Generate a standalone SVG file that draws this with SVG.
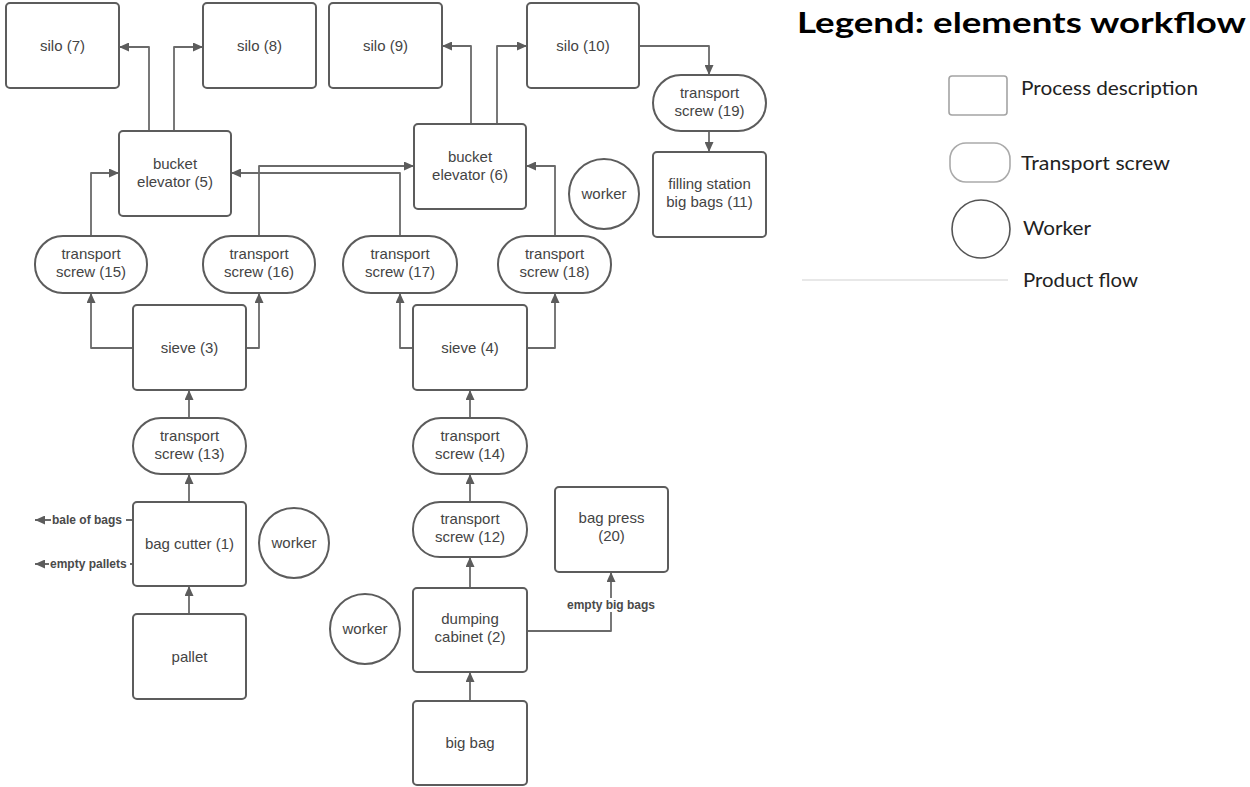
<svg xmlns="http://www.w3.org/2000/svg" width="1250" height="787" viewBox="0 0 1250 787">
  <style>
    .box { fill: #ffffff; stroke: #5c5c5c; stroke-width: 2; }
    .lbl { font-family: "Liberation Sans", Arial, sans-serif; font-size: 15px; fill: #444444; text-anchor: middle; }
    .flow { fill: none; stroke: #6a6a6a; stroke-width: 1.8; stroke-linejoin: round; marker-end: url(#arrow); }
    .tag { font-family: "Liberation Sans", Arial, sans-serif; font-size: 12px; font-weight: bold; fill: #4a4a4a; }
    .leg { font-family: Lato, "Liberation Sans", sans-serif; font-size: 20px; fill: #222222; }
  </style>
  <defs>
    <marker id="arrow" markerUnits="userSpaceOnUse" markerWidth="10" markerHeight="9" refX="10" refY="4.5" orient="auto">
      <path d="M0,0 L10,4.5 L0,9 z" fill="#5c5c5c"/>
    </marker>
  </defs>

  <rect width="1250" height="787" fill="#ffffff"/>

  <!-- connectors -->
  <g id="connectors">
    <path class="flow" d="M149,131 V47 H119"/>
    <path class="flow" d="M174,131 V47 H203"/>
    <path class="flow" d="M471,124 V46 H442"/>
    <path class="flow" d="M497,124 V46 H527"/>
    <path class="flow" d="M639,46 H709 V75"/>
    <path class="flow" d="M709,131 V152"/>
    <path class="flow" d="M91,236 V173 H119"/>
    <path class="flow" d="M259,236 V166 H414"/>
    <path class="flow" d="M400,236 V173 H231"/>
    <path class="flow" d="M555,236 V166 H526"/>
    <path class="flow" d="M133,348 H91 V293"/>
    <path class="flow" d="M246,348 H259 V293"/>
    <path class="flow" d="M413,348 H400 V293"/>
    <path class="flow" d="M527,348 H555 V293"/>
    <path class="flow" d="M189,418 V390"/>
    <path class="flow" d="M189,502 V474"/>
    <path class="flow" d="M189,614 V586"/>
    <path class="flow" d="M133,520 H35"/>
    <path class="flow" d="M133,564 H35"/>
    <path class="flow" d="M470,418 V390"/>
    <path class="flow" d="M470,502 V474"/>
    <path class="flow" d="M470,588 V557"/>
    <path class="flow" d="M470,701 V672"/>
    <path class="flow" d="M527,631 H611 V572"/>
    <!-- connector labels on a white ground -->
    <rect x="51" y="512" width="75" height="15" fill="#ffffff"/>
    <text class="tag" x="52" y="524">bale of bags</text>
    <rect x="49" y="556" width="81" height="15" fill="#ffffff"/>
    <text class="tag" x="50" y="568">empty pallets</text>
    <rect x="565" y="598" width="92" height="14" fill="#ffffff"/>
    <text class="tag" x="611" y="609" text-anchor="middle">empty big bags</text>
  </g>

  <!-- silos -->
  <g id="silo7"><rect class="box" x="6" y="3" width="113" height="85" rx="4"/><text class="lbl" x="62.5" y="51">silo (7)</text></g>
  <g id="silo8"><rect class="box" x="203" y="3" width="113" height="85" rx="4"/><text class="lbl" x="259.5" y="51">silo (8)</text></g>
  <g id="silo9"><rect class="box" x="329" y="3" width="113" height="85" rx="4"/><text class="lbl" x="385.5" y="51">silo (9)</text></g>
  <g id="silo10"><rect class="box" x="527" y="3" width="112" height="85" rx="4"/><text class="lbl" x="583" y="51">silo (10)</text></g>

  <!-- bucket elevators -->
  <g id="elevator5"><rect class="box" x="119" y="131" width="112" height="85" rx="4"/><text class="lbl" x="175" y="169">bucket</text><text class="lbl" x="175" y="187">elevator (5)</text></g>
  <g id="elevator6"><rect class="box" x="414" y="124" width="112" height="85" rx="4"/><text class="lbl" x="470" y="162">bucket</text><text class="lbl" x="470" y="180">elevator (6)</text></g>

  <!-- transport screw 19 and filling station -->
  <g id="screw19"><rect class="box" x="653" y="75" width="113" height="56" rx="28"/><text class="lbl" x="709.5" y="98">transport</text><text class="lbl" x="709.5" y="116">screw (19)</text></g>
  <g id="filling11"><rect class="box" x="653" y="152" width="113" height="85" rx="4"/><text class="lbl" x="709.5" y="189">filling station</text><text class="lbl" x="709.5" y="207">big bags (11)</text></g>

  <!-- transport screws feeding the elevators -->
  <g id="screw15"><rect class="box" x="35" y="236" width="112" height="57" rx="28"/><text class="lbl" x="91" y="259">transport</text><text class="lbl" x="91" y="277">screw (15)</text></g>
  <g id="screw16"><rect class="box" x="203" y="236" width="112" height="57" rx="28"/><text class="lbl" x="259" y="259">transport</text><text class="lbl" x="259" y="277">screw (16)</text></g>
  <g id="screw17"><rect class="box" x="343" y="236" width="114" height="57" rx="28"/><text class="lbl" x="400" y="259">transport</text><text class="lbl" x="400" y="277">screw (17)</text></g>
  <g id="screw18"><rect class="box" x="498" y="236" width="113" height="57" rx="28"/><text class="lbl" x="554.5" y="259">transport</text><text class="lbl" x="554.5" y="277">screw (18)</text></g>

  <!-- sieves -->
  <g id="sieve3"><rect class="box" x="133" y="305" width="113" height="85" rx="4"/><text class="lbl" x="189.5" y="353">sieve (3)</text></g>
  <g id="sieve4"><rect class="box" x="413" y="305" width="114" height="85" rx="4"/><text class="lbl" x="470" y="353">sieve (4)</text></g>

  <!-- left line -->
  <g id="screw13"><rect class="box" x="133" y="418" width="113" height="56" rx="28"/><text class="lbl" x="189.5" y="441">transport</text><text class="lbl" x="189.5" y="459">screw (13)</text></g>
  <g id="cutter1"><rect class="box" x="133" y="502" width="113" height="84" rx="4"/><text class="lbl" x="189.5" y="549">bag cutter (1)</text></g>
  <g id="pallet"><rect class="box" x="133" y="614" width="113" height="85" rx="4"/><text class="lbl" x="189.5" y="662">pallet</text></g>

  <!-- right line -->
  <g id="screw14"><rect class="box" x="413" y="418" width="114" height="56" rx="28"/><text class="lbl" x="470" y="441">transport</text><text class="lbl" x="470" y="459">screw (14)</text></g>
  <g id="screw12"><rect class="box" x="413" y="502" width="114" height="55" rx="27"/><text class="lbl" x="470" y="524">transport</text><text class="lbl" x="470" y="542">screw (12)</text></g>
  <g id="dumping2"><rect class="box" x="413" y="588" width="114" height="84" rx="4"/><text class="lbl" x="470" y="624">dumping</text><text class="lbl" x="470" y="642">cabinet (2)</text></g>
  <g id="bigbag"><rect class="box" x="413" y="701" width="114" height="84" rx="4"/><text class="lbl" x="470" y="748">big bag</text></g>
  <g id="press20"><rect class="box" x="555" y="487" width="113" height="85" rx="4"/><text class="lbl" x="611.5" y="523">bag press</text><text class="lbl" x="611.5" y="541">(20)</text></g>

  <!-- workers -->
  <g id="worker1"><circle class="box" cx="604" cy="194" r="35"/><text class="lbl" x="604" y="199">worker</text></g>
  <g id="worker2"><circle class="box" cx="294" cy="543" r="35"/><text class="lbl" x="294" y="548">worker</text></g>
  <g id="worker3"><circle class="box" cx="365" cy="629" r="35"/><text class="lbl" x="365" y="634">worker</text></g>

  <!-- legend -->
  <g id="legend">
    <text x="797" y="33" font-family="Lato, 'Liberation Sans', sans-serif" font-size="29" font-weight="bold" fill="#000000" textLength="449" lengthAdjust="spacingAndGlyphs">Legend: elements workflow</text>
    <rect x="949" y="76" width="58" height="39" rx="3" fill="none" stroke="#a4a4a4" stroke-width="1.6"/>
    <text class="leg" x="1021" y="95" textLength="177" lengthAdjust="spacingAndGlyphs">Process description</text>
    <rect x="950" y="143" width="60" height="39" rx="16" fill="none" stroke="#aaaaaa" stroke-width="1.6"/>
    <text class="leg" x="1021" y="170" textLength="149" lengthAdjust="spacingAndGlyphs">Transport screw</text>
    <circle cx="981" cy="229" r="29" fill="none" stroke="#555555" stroke-width="1.6"/>
    <text class="leg" x="1023" y="235" textLength="68" lengthAdjust="spacingAndGlyphs">Worker</text>
    <line x1="802" y1="280" x2="1008" y2="280" stroke="#d2d2d2" stroke-width="1.2"/>
    <text class="leg" x="1023" y="287" textLength="115" lengthAdjust="spacingAndGlyphs">Product flow</text>
  </g>
</svg>
